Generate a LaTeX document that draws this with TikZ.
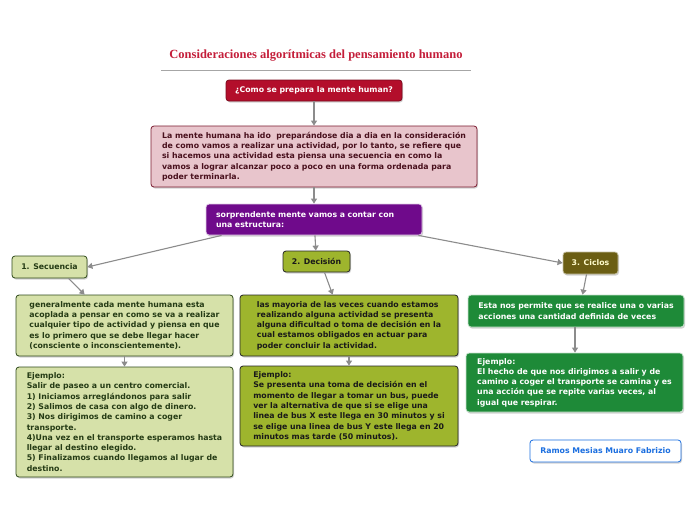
\documentclass[tikz,border=0pt]{standalone}
\usepackage{fontspec}
\setmainfont{DejaVu Sans}
\newfontfamily\titlefont{Liberation Serif}
\usetikzlibrary{calc}
\usetikzlibrary{shadows}
\usetikzlibrary{arrows.meta}
\definecolor{titulo}{HTML}{C41E3A}
\definecolor{rojo}{HTML}{B30E2B}
\definecolor{rosa}{HTML}{E8C5CC}
\definecolor{vino}{HTML}{7A1B30}
\definecolor{morado}{HTML}{6F0A8B}
\definecolor{verdeclaro}{HTML}{D6E1A9}
\definecolor{verdeosc}{HTML}{2F4A1A}
\definecolor{oliva}{HTML}{9EB52D}
\definecolor{marron}{HTML}{6B5E13}
\definecolor{verde}{HTML}{1E8A38}
\definecolor{azul}{HTML}{1C6FE0}
\definecolor{flecha}{HTML}{8C8C8C}
\newcommand*{\txt}{\bfseries\fontsize{7.8}{10.3}\selectfont}

\begin{document}
\begin{tikzpicture}[x=1pt,y=-1pt,
    caja/.style={rectangle, rounded corners=3pt, inner sep=0pt, line width=0.8pt,
        align=left, font=\txt, drop shadow={shadow xshift=1pt, shadow yshift=-1.5pt, opacity=0.35}},
    flc/.style={draw=flecha, line width=1.1pt, -{Triangle[width=6pt,length=5pt]}}]
    \useasboundingbox [fill=white] (0,0) rectangle (696,520);
    % titulo
    \node (tit) at (316,56) {\titlefont\bfseries\fontsize{12.5}{14}\selectfont\color{titulo}Consideraciones algorítmicas del pensamiento humano};
    \draw [draw=gray!70, line width=0.8pt] (161,70) -- (471,70);
    % nivel superior
    \node [caja, fill=rojo, draw=rojo!70!black, text=white, minimum width=176pt, minimum height=21pt, align=center] (preg) at (314,90.5)
        {¿Como se prepara la mente human?};
    \node [caja, fill=rosa, draw=vino, text=vino!60!black, minimum width=326pt, minimum height=61pt] (mente) at (314,156.5)
        {La mente humana ha ido \ preparándose dia a dia en la consideración\\de como vamos a realizar una actividad, por lo tanto, se refiere que\\si hacemos una actividad esta piensa una secuencia en como la\\vamos a lograr alcanzar poco a poco en una forma ordenada para\\poder terminarla.};
    \node [caja, fill=morado, draw=morado!20, text=white, text width=196pt, inner xsep=10pt, minimum height=31pt] (estr) at (314,219.5)
        {sorprendente mente vamos a contar con\\una estructura:};
    % tres ramas
    \node [caja, fill=verdeclaro, draw=verdeosc, text=verdeosc!80!black, minimum width=75pt, minimum height=22pt, align=center] (sec) at (49.5,267) {1. Secuencia};
    \node [caja, fill=oliva, draw=black!85, text=black!90, minimum width=67pt, minimum height=21pt, align=center] (dec) at (316.5,261.5) {2. Decisión};
    \node [caja, fill=marron, draw=marron!40, text=yellow!20!white, minimum width=55pt, minimum height=22pt, align=center] (cic) at (590.5,263) {3. Ciclos};
    % secuencia
    \node [caja, fill=verdeclaro, draw=verdeosc, text=verdeosc!80!black, minimum width=217pt, minimum height=61pt] (secd) at (124.5,325.5)
        {generalmente cada mente humana esta\\acoplada a pensar en como se va a realizar\\cualquier tipo de actividad y piensa en que\\es lo primero que se debe llegar hacer\\(consciente o inconscientemente).};
    \node [caja, fill=verdeclaro, draw=verdeosc, text=verdeosc!80!black, minimum width=217pt, minimum height=110pt] (sece) at (124.5,422)
        {Ejemplo:\\Salir de paseo a un centro comercial.\\1) Iniciamos arreglándonos para salir\\2) Salimos de casa con algo de dinero.\\3) Nos dirigimos de camino a coger\\transporte.\\4)Una vez en el transporte esperamos hasta\\llegar al destino elegido.\\5) Finalizamos cuando llegamos al lugar de\\destino.};
    % decision
    \node [caja, fill=oliva, draw=black!85, text=black!90, minimum width=218pt, minimum height=61pt] (decd) at (349,325.5)
        {las mayoria de las veces cuando estamos\\realizando alguna actividad se presenta\\alguna dificultad o toma de decisión en la\\cual estamos obligados en actuar para\\poder concluir la actividad.};
    \node [caja, fill=oliva, draw=black!85, text=black!90, minimum width=218pt, minimum height=80pt] (dece) at (349,406)
        {Ejemplo:\\Se presenta una toma de decisión en el\\momento de llegar a tomar un bus, puede\\ver la alternativa de que si se elige una\\linea de bus X este llega en 30 minutos y si\\se elige una linea de bus Y este llega en 20\\minutos mas tarde (50 minutos).};
    % ciclos
    \node [caja, fill=verde, draw=verde!25, text=white, minimum width=216pt, minimum height=32pt] (cicd) at (576,311)
        {Esta nos permite que se realice una o varias\\acciones una cantidad definida de veces};
    \node [caja, fill=verde, draw=verde!25, text=white, minimum width=217pt, minimum height=59pt] (cice) at (574.5,382.5)
        {Ejemplo:\\El hecho de que nos dirigimos a salir y de\\camino a coger el transporte se camina y es\\una acción que se repite varias veces, al\\igual que respirar.};
    \node [caja, fill=white, draw=azul, text=azul, minimum width=151pt, minimum height=22pt, align=center] (aut) at (605.5,451) {Ramos Mesias Muaro Fabrizio};
    % flechas
    \draw [flc] (preg) -- (mente);
    \draw [flc] (mente) -- (estr);
    \draw [flc] ($(estr.south west)+(16,0)$) -- (sec.east);
    \draw [flc] (estr) -- (dec);
    \draw [flc] ($(estr.south east)+(-4,0)$) -- (cic.west);
    \draw [flc] ($(sec.south)+(19,0)$) -- ($(secd.north west)+(69,0)$);
    \draw [flc] ($(dec.south)+(8,0)$) -- ($(decd.north west)+(93,0)$);
    \draw [flc] ($(cic.south)+(-4,0)$) -- ($(cicd.north west)+(115,0)$);
    \draw [flc] (secd) -- (sece);
    \draw [flc] (decd) -- (dece);
    \draw [flc] ($(cicd.south)+(-1,0)$) -- ($(cice.north)+(0.5,0)$);
\end{tikzpicture}
\end{document}
